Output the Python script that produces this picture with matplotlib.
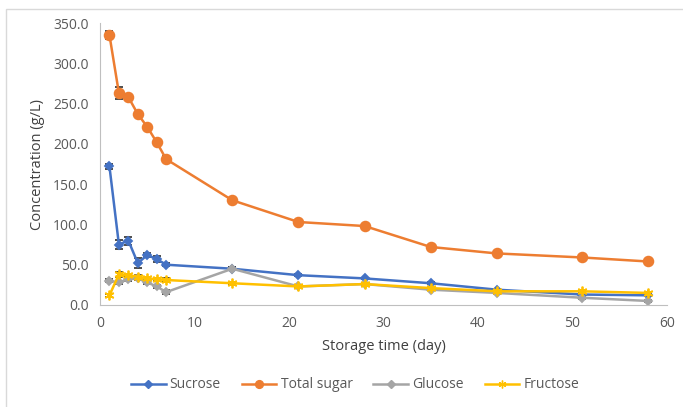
import matplotlib.pyplot as plt
from matplotlib.patches import Rectangle
from matplotlib.lines import Line2D

# storage days
days = [1, 2, 3, 4, 5, 6, 7, 14, 21, 28, 35, 42, 51, 58]

# concentrations (g/L)
sucrose = [172, 75, 80, 52, 62, 57, 50, 45, 37, 33, 27, 19, 13, 12]
total_sugar = [335, 263, 258, 237, 221, 202, 181, 130, 103, 98, 72, 64, 59, 54]
glucose = [30, 28, 32, 33, 28, 23, 16, 45, 23, 26, 19, 15, 9, 5]
fructose = [12, 38, 37, 35, 33, 32, 31, 27, 23, 26, 21, 17, 17, 15]

# standard deviations
sucrose_err = [3, 6, 5, 6, 3, 4, 2, 2, 1, 1, 1, 1, 1, 1]
total_err = [5, 7, 4, 3, 2, 2, 4, 2, 2, 2, 2, 2, 2, 2]
glucose_err = [2, 2, 2, 2, 2, 2, 2, 2, 1, 1, 1, 1, 1, 1]
fructose_err = [2, 3, 2, 2, 2, 2, 2, 2, 1, 1, 1, 1, 1, 1]

plt.rcParams["font.family"] = ["Open Sans", "DejaVu Sans"]

fig = plt.figure(figsize=(6.83, 4.07), dpi=100)
ax = fig.add_axes([100 / 683, 1 - 305 / 407, 567 / 683, 282 / 407])

# light frame round the chart area
fig.patches.append(Rectangle((6 / 683, -0.1), 1.1, 1.1 - 9 / 407,
                             transform=fig.transFigure, fill=False,
                             edgecolor="#d9d9d9", linewidth=1))

series = [
    ("Sucrose", sucrose, sucrose_err, "#4472C4", "D", 4.5),
    ("Total sugar", total_sugar, total_err, "#ED7D31", "o", 7),
    ("Glucose", glucose, glucose_err, "#A5A5A5", "D", 4.5),
    ("Fructose", fructose, fructose_err, "#FFC000", (6, 2, 0), 7),
]

handles = []
for name, vals, err, col, mk, ms in series:
    ax.errorbar(days, vals, yerr=err, color=col, marker=mk, markersize=ms,
                linewidth=1.8, ecolor="#404040", elinewidth=1, capsize=3,
                markeredgewidth=1.3, markeredgecolor=col)
    handles.append(Line2D([], [], color=col, marker=mk, markersize=ms * 0.8,
                          linewidth=1.8, markeredgecolor=col, label=name))

ax.set_xlim(0, 60)
ax.set_ylim(0, 350)
ax.set_xticks(range(0, 61, 10))
ax.set_yticks(range(0, 351, 50))
ax.set_yticklabels([f"{v:.1f}" for v in range(0, 351, 50)])

for s in ["top", "right"]:
    ax.spines[s].set_visible(False)
for s in ["left", "bottom"]:
    ax.spines[s].set_color("#bfbfbf")
ax.tick_params(length=0, labelsize=10, colors="#595959", pad=8)

ax.set_xlabel("Storage time (day)", fontsize=10.5, color="#404040", labelpad=6)
ax.set_ylabel("Concentration (g/L)", fontsize=10.5, color="#404040", labelpad=6)

fig.legend(handles=handles, loc="center", bbox_to_anchor=(355 / 683, 1 - 385 / 407),
           ncol=4, frameon=False, fontsize=10, labelcolor="#595959",
           handlelength=2.5, columnspacing=1.5, handletextpad=0.3)

fig.savefig("out.png", dpi=100)
